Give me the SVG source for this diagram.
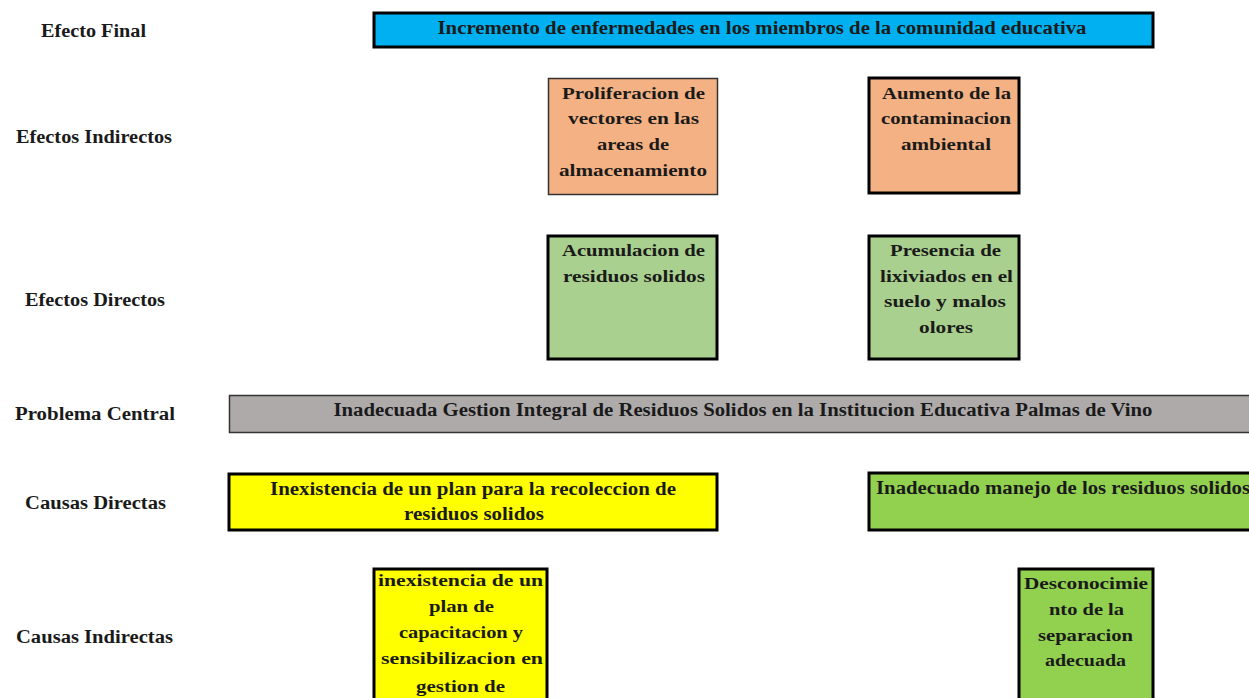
<svg xmlns="http://www.w3.org/2000/svg" width="1249" height="698" viewBox="0 0 1249 698">
<style>
.lbl{font-family:"Liberation Serif",serif;font-weight:bold;font-size:18px;fill:#1a1a1a;text-anchor:middle}
.bt{font-family:"Liberation Serif",serif;font-weight:bold;font-size:17.5px;fill:#1a1a1a;text-anchor:middle}
.ct{font-family:"Liberation Serif",serif;font-weight:bold;font-size:18px;fill:#1a1a1a;text-anchor:middle}
.thick{stroke:#000;stroke-width:3}
.thin{stroke:#333;stroke-width:1.5}
</style>
<rect x="0" y="0" width="1249" height="698" fill="#fff"/>
<g id="labels">
<text class="lbl" x="93.5" y="37" textLength="105" lengthAdjust="spacingAndGlyphs">Efecto Final</text>
<text class="lbl" x="94" y="143" textLength="156" lengthAdjust="spacingAndGlyphs">Efectos Indirectos</text>
<text class="lbl" x="95" y="306" textLength="140" lengthAdjust="spacingAndGlyphs">Efectos Directos</text>
<text class="lbl" x="95" y="420" textLength="160" lengthAdjust="spacingAndGlyphs">Problema Central</text>
<text class="lbl" x="95.5" y="509" textLength="141" lengthAdjust="spacingAndGlyphs">Causas Directas</text>
<text class="lbl" x="94.5" y="643" textLength="157" lengthAdjust="spacingAndGlyphs">Causas Indirectas</text>
</g>
<g id="connectors"></g>
<g id="efecto-final">
<rect class="thick" x="374" y="13" width="779" height="34" fill="#00B0F0"/>
<text class="ct" x="762" y="34" textLength="649" lengthAdjust="spacingAndGlyphs">Incremento de enfermedades en los miembros de la comunidad educativa</text>
</g>
<g id="proliferacion">
<rect class="thin" x="548.5" y="78.5" width="169" height="116" fill="#F4B183"/>
<text class="bt" x="633.5" y="99" textLength="143" lengthAdjust="spacingAndGlyphs">Proliferacion de</text>
<text class="bt" x="633.5" y="124" textLength="131" lengthAdjust="spacingAndGlyphs">vectores en las</text>
<text class="bt" x="633" y="150" textLength="72" lengthAdjust="spacingAndGlyphs">areas de</text>
<text class="bt" x="633" y="176" textLength="148" lengthAdjust="spacingAndGlyphs">almacenamiento</text>
</g>
<g id="aumento">
<rect class="thick" x="869" y="78" width="150" height="115" fill="#F4B183"/>
<text class="bt" x="946.5" y="99" textLength="129" lengthAdjust="spacingAndGlyphs">Aumento de la</text>
<text class="bt" x="946" y="124" textLength="130" lengthAdjust="spacingAndGlyphs">contaminacion</text>
<text class="bt" x="946" y="150" textLength="90" lengthAdjust="spacingAndGlyphs">ambiental</text>
</g>
<g id="acumulacion">
<rect class="thick" x="548" y="236" width="169" height="123" fill="#A9D08E"/>
<text class="bt" x="633.5" y="256" textLength="143" lengthAdjust="spacingAndGlyphs">Acumulacion de</text>
<text class="bt" x="634" y="282" textLength="142" lengthAdjust="spacingAndGlyphs">residuos solidos</text>
</g>
<g id="presencia">
<rect class="thick" x="869" y="236" width="150" height="123" fill="#A9D08E"/>
<text class="bt" x="945.5" y="256" textLength="111" lengthAdjust="spacingAndGlyphs">Presencia de</text>
<text class="bt" x="946.5" y="282" textLength="133" lengthAdjust="spacingAndGlyphs">lixiviados en el</text>
<text class="bt" x="945" y="307" textLength="122" lengthAdjust="spacingAndGlyphs">suelo y malos</text>
<text class="bt" x="946" y="333" textLength="54" lengthAdjust="spacingAndGlyphs">olores</text>
</g>
<g id="problema-central">
<rect class="thin" x="229.5" y="395.5" width="1030" height="37" fill="#AEAAAA"/>
<text class="ct" x="743" y="416" textLength="819" lengthAdjust="spacingAndGlyphs">Inadecuada Gestion Integral de Residuos Solidos en la Institucion Educativa Palmas de Vino</text>
</g>
<g id="causa-directa-1">
<rect class="thick" x="229" y="474" width="488" height="56" fill="#FFFF00"/>
<text class="ct" x="473" y="495" textLength="406" lengthAdjust="spacingAndGlyphs">Inexistencia de un plan para la recoleccion de</text>
<text class="ct" x="474" y="520" textLength="140" lengthAdjust="spacingAndGlyphs">residuos solidos</text>
</g>
<g id="causa-directa-2">
<rect class="thick" x="869" y="473" width="400" height="57" fill="#92D050"/>
<text class="ct" x="876" y="494" style="text-anchor:start" textLength="374" lengthAdjust="spacingAndGlyphs">Inadecuado manejo de los residuos solidos</text>
</g>
<g id="causa-indirecta-1">
<rect class="thick" x="374" y="569" width="173" height="140" fill="#FFFF00"/>
<text class="bt" x="460.5" y="586" textLength="165" lengthAdjust="spacingAndGlyphs">inexistencia de un</text>
<text class="bt" x="461.5" y="612" textLength="65" lengthAdjust="spacingAndGlyphs">plan de</text>
<text class="bt" x="461" y="638" textLength="124" lengthAdjust="spacingAndGlyphs">capacitacion y</text>
<text class="bt" x="462" y="664" textLength="162" lengthAdjust="spacingAndGlyphs">sensibilizacion en</text>
<text class="bt" x="460.5" y="692" textLength="89" lengthAdjust="spacingAndGlyphs">gestion de</text>
</g>
<g id="causa-indirecta-2">
<rect class="thick" x="1019" y="569" width="134" height="140" fill="#92D050"/>
<text class="bt" x="1086" y="589" textLength="124" lengthAdjust="spacingAndGlyphs">Desconocimie</text>
<text class="bt" x="1086.5" y="615" textLength="75" lengthAdjust="spacingAndGlyphs">nto de la</text>
<text class="bt" x="1085.5" y="641" textLength="95" lengthAdjust="spacingAndGlyphs">separacion</text>
<text class="bt" x="1085.5" y="666" textLength="81" lengthAdjust="spacingAndGlyphs">adecuada</text>
</g>
</svg>
